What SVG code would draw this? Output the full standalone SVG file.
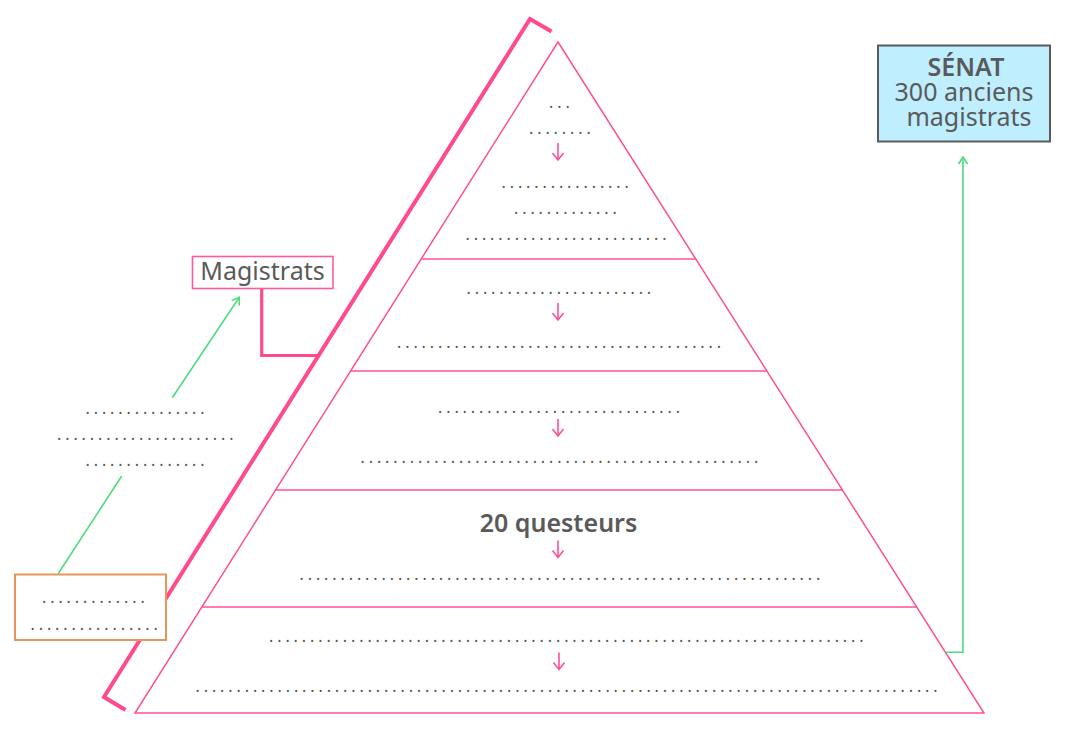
<svg xmlns="http://www.w3.org/2000/svg" width="1070" height="748" viewBox="0 0 1070 748">
<defs>
<style>
.pk{stroke:#ff4f98;stroke-width:1.5;fill:none}
.br{stroke:#ff4a90;stroke-width:4;fill:none;stroke-linejoin:miter}
.gr{stroke:#4fdc7e;stroke-width:1.6;fill:none}
.dots{font-family:"Noto Sans","DejaVu Sans",sans-serif;font-size:16px;letter-spacing:3.91px;fill:#555}
.lbl{font-family:"Noto Sans","DejaVu Sans",sans-serif;font-size:25px;fill:#5a5a5a;text-anchor:middle}
.bold{font-weight:600}
</style>
<marker id="ga" markerWidth="12" markerHeight="12" refX="0" refY="0" viewBox="-9 -6 12 12" orient="auto" markerUnits="userSpaceOnUse">
<path d="M-7,-4.5 L0,0 L-7,4.5" fill="none" stroke="#4fdc7e" stroke-width="1.6"/>
</marker>
<path id="darr" d="M0,0 V17 M-5.5,10 L0,17 L5.5,10" fill="none" stroke="#ff4f98" stroke-width="1.6"/>
</defs>
<rect width="1070" height="748" fill="#fff"/>

<g id="pyramid">
<polygon class="pk" points="558,42 984,713 135,713"/>
<line class="pk" x1="421.2" y1="259" x2="695.8" y2="259"/>
<line class="pk" x1="350.6" y1="371" x2="766.9" y2="371"/>
<line class="pk" x1="275.6" y1="490" x2="842.4" y2="490"/>
<line class="pk" x1="201.8" y1="607" x2="916.7" y2="607"/>
</g>

<g id="level1">
<text class="dots" x="549" y="108">...</text>
<text class="dots" x="529" y="134">........</text>
<use href="#darr" x="558" y="143"/>
<text class="dots" x="501.5" y="188">................</text>
<text class="dots" x="514" y="214">.............</text>
<text class="dots" x="465.5" y="240">.........................</text>
</g>

<g id="level2">
<text class="dots" x="466.5" y="294">.......................</text>
<use href="#darr" x="558" y="303"/>
<text class="dots" x="397" y="348">........................................</text>
</g>

<g id="level3">
<text class="dots" x="438" y="413">..............................</text>
<use href="#darr" x="558" y="419"/>
<text class="dots" x="360.5" y="463">.................................................</text>
</g>

<g id="level4">
<text class="lbl bold" x="558.5" y="532" font-size="24.5">20 questeurs</text>
<use href="#darr" x="558" y="540.5"/>
<text class="dots" x="299.5" y="580">................................................................</text>
</g>

<g id="level5">
<text class="dots" x="269" y="642">.........................................................................</text>
<use href="#darr" x="559" y="652.5"/>
<text class="dots" x="195.5" y="692">...........................................................................................</text>
</g>

<g id="bracket">
<polyline class="br" points="551.5,31.5 530,19 104,697 125.5,710"/>
</g>

<g id="magistrats">
<rect x="192.5" y="256.5" width="140.5" height="32" fill="#fff" stroke="#ff5aa0" stroke-width="1.6"/>
<text class="lbl" x="262.5" y="280">Magistrats</text>
</g>

<g id="left-text">
<text class="dots" x="85.5" y="414">...............</text>
<text class="dots" x="57" y="440">......................</text>
<text class="dots" x="85.5" y="466">...............</text>
</g>

<g id="orange-box">
<rect x="15" y="574.5" width="151" height="65.5" fill="#fff" stroke="#e9955a" stroke-width="2"/>
<text class="dots" x="42" y="603">.............</text>
<text class="dots" x="30.5" y="629.5">................</text>
</g>

<g id="senat">
<rect x="878" y="45.5" width="172" height="96" fill="#bfeeff" stroke="#5a5a5a" stroke-width="2"/>
<text class="lbl bold" x="966" y="76" font-size="26">SÉNAT</text>
<text class="lbl" x="964" y="101">300 anciens</text>
<text class="lbl" x="969" y="126">magistrats</text>
</g>

<g id="connectors">
<polyline class="br" style="stroke-width:3.2" points="261.7,289 261.7,355.5 319,355.5"/>
<line class="gr" x1="58.3" y1="573.5" x2="121.7" y2="476"/>
<line class="gr" x1="172.3" y1="397.7" x2="239.3" y2="297.3" marker-end="url(#ga)"/>
<polyline class="gr" points="945.5,652.3 963,652.3 963,157" marker-end="url(#ga)"/>
</g>
</svg>
